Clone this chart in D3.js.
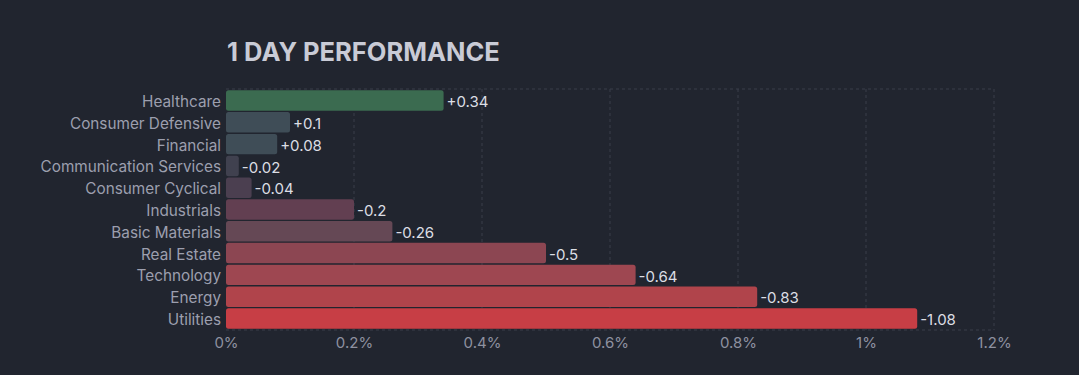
<!DOCTYPE html>
<html lang="en">
<head>
    <meta charset="UTF-8">
    <title>1 Day Performance</title>
    <script src="https://d3js.org/d3.v7.min.js"></script>
    <style>
        html, body {
            margin: 0;
            padding: 0;
            background: #21252f;
        }
        svg {
            display: block;
            font-family: Inter, "Noto Sans", sans-serif;
        }
    </style>
</head>
<body>
    <svg id="chart" width="1079" height="375"></svg>
    <script>
        // Data
        const sectors = ["Healthcare", "Consumer Defensive", "Financial", "Communication Services",
            "Consumer Cyclical", "Industrials", "Basic Materials", "Real Estate", "Technology",
            "Energy", "Utilities"];
        const changes = [0.34, 0.1, 0.08, -0.02, -0.04, -0.2, -0.26, -0.5, -0.64, -0.83, -1.08];
        const barColors = ["#3b6b50", "#3f4d57", "#3f4d57", "#40414f", "#4b3f50", "#623f51",
            "#654855", "#8c4652", "#9e4751", "#b0444b", "#c73e45"];
        const xTicks = [0, 0.2, 0.4, 0.6, 0.8, 1, 1.2];

        const margin = { top: 89, right: 85, bottom: 45, left: 226 };
        const width = 1079 - margin.left - margin.right;
        const height = 375 - margin.top - margin.bottom;

        const svg = d3.select("#chart");

        svg.append("text")
            .attr("x", 227)
            .attr("y", 61)
            .attr("fill", "#c9cbd6")
            .attr("font-size", 25.5)
            .attr("font-weight", 700)
            .text("1 DAY PERFORMANCE");

        const g = svg.append("g")
            .attr("transform", `translate(${margin.left},${margin.top})`);

        const x = d3.scaleLinear().domain([0, 1.2]).range([0, width]);
        const y = d3.scaleBand().domain(sectors).range([0, height]).padding(0.06);

        // dashed grid
        g.selectAll(".grid")
            .data(xTicks.slice(1))
            .enter()
            .append("line")
            .attr("x1", d => x(d))
            .attr("x2", d => x(d))
            .attr("y1", 0)
            .attr("y2", height)
            .attr("stroke", "#3a3e4a")
            .attr("stroke-dasharray", "3,3");

        g.append("line")
            .attr("x1", 0).attr("x2", width)
            .attr("y1", 0).attr("y2", 0)
            .attr("stroke", "#3a3e4a")
            .attr("stroke-dasharray", "3,3");
        g.append("line")
            .attr("x1", 0).attr("x2", width)
            .attr("y1", height).attr("y2", height)
            .attr("stroke", "#3a3e4a")
            .attr("stroke-dasharray", "3,3");

        // bars
        const rows = sectors.map((s, i) => ({ name: s, value: changes[i], color: barColors[i] }));

        g.selectAll(".bar")
            .data(rows)
            .enter()
            .append("rect")
            .attr("class", "bar")
            .attr("x", 0)
            .attr("y", d => y(d.name))
            .attr("width", d => x(Math.abs(d.value)))
            .attr("height", y.bandwidth())
            .attr("rx", 2.5)
            .attr("fill", d => d.color);

        // value labels
        g.selectAll(".value")
            .data(rows)
            .enter()
            .append("text")
            .attr("x", d => x(Math.abs(d.value)) + 3)
            .attr("y", d => y(d.name) + y.bandwidth() / 2 + 1.5)
            .attr("dy", "0.35em")
            .attr("fill", "#dcdee4")
            .attr("font-size", 15)
            .text(d => (d.value > 0 ? "+" : "") + d.value);

        // y axis labels
        const yAxis = g.append("g")
            .call(d3.axisLeft(y).tickSize(0).tickPadding(5));
        yAxis.select(".domain").remove();
        yAxis.selectAll("text")
            .attr("dy", "0.42em")
            .attr("fill", "#9c9fae")
            .attr("font-size", 15.3)
            .attr("font-family", "Inter, 'Noto Sans', sans-serif");

        // x axis
        const xAxis = g.append("g")
            .attr("transform", `translate(0,${height})`)
            .call(d3.axisBottom(x).tickValues(xTicks).tickSize(0).tickPadding(7)
                .tickFormat(d => d3.format("~g")(d) + "%"));
        xAxis.select(".domain").remove();
        xAxis.selectAll("text")
            .attr("fill", "#8e91a0")
            .attr("font-size", 15)
            .attr("font-family", "Inter, 'Noto Sans', sans-serif");
    </script>
</body>
</html>
